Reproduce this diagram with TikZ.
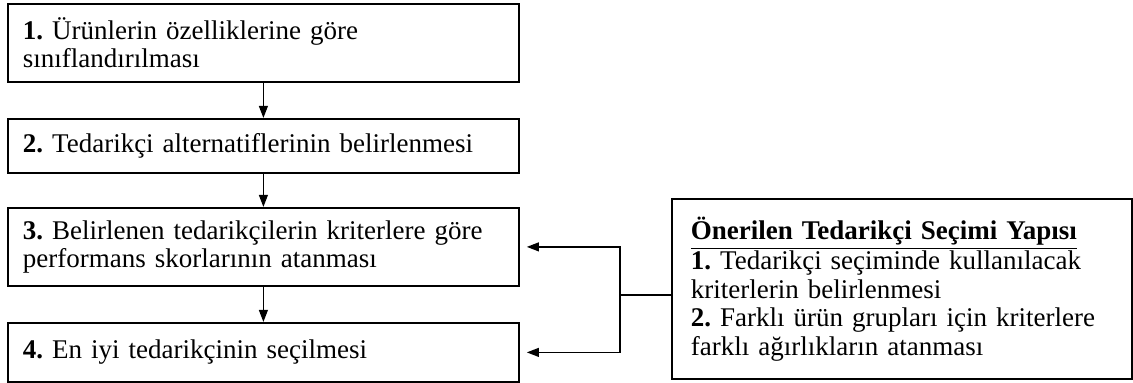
\documentclass[tikz,border=0pt]{standalone}
\usepackage{fontspec}
\setmainfont{Liberation Serif}
\usetikzlibrary{arrows.meta}
\frenchspacing
\begin{document}
\begin{tikzpicture}[x=0.5pt,y=-0.5pt,
  txt/.style={font=\fontsize{13.5}{14.2}\selectfont},
  stepbox/.style={draw, line width=0.9pt, anchor=north west, inner xsep=7.5pt, inner ysep=0pt,
    text width=240.5pt, minimum width=255.5pt, align=left, txt},
  notebox/.style={draw, line width=0.9pt, anchor=north west, inner xsep=9.5pt, inner ysep=0pt,
    text width=211pt, minimum width=230pt, minimum height=90pt, align=left, txt},
  conn/.style={line width=0.75pt},
  arr/.style={conn, -{Triangle[length=6pt,width=4.4pt]}}
]
\useasboundingbox (0,0) rectangle (1133,383);
\node[stepbox, minimum height=39pt] (b1) at (7,3) {\textbf{1.} Ürünlerin özelliklerine göre\\sınıflandırılması};
\node[stepbox, minimum height=27pt] (b2) at (7,118) {\textbf{2.} Tedarikçi alternatiflerinin belirlenmesi};
\node[stepbox, minimum height=39pt] (b3) at (7,207) {\textbf{3.} Belirlenen tedarikçilerin kriterlere göre\\performans skorlarının atanması};
\node[stepbox, minimum height=29.5pt] (b4) at (7,322) {\textbf{4.} En iyi tedarikçinin seçilmesi};
\node[notebox] (rb) at (671,198) {\textbf{\underline{Önerilen Tedarikçi Seçimi Yapısı}}\\
\textbf{1.} Tedarikçi seçiminde kullanılacak\\kriterlerin belirlenmesi\\
\textbf{2.} Farklı ürün grupları için kriterlere\\farklı ağırlıkların atanması};
\draw[arr] (b1.south) -- (b2.north);
\draw[arr] (b2.south) -- (b3.north);
\draw[arr] (b3.south) -- (b4.north);
\coordinate (j) at (620,295);
\draw[conn] (rb.west |- j) -- (j);
\draw[arr, shorten >=3.5pt] (j) |- (b3.east);
\draw[arr, shorten >=3.5pt] (j) |- (b4.east);
\end{tikzpicture}
\end{document}
